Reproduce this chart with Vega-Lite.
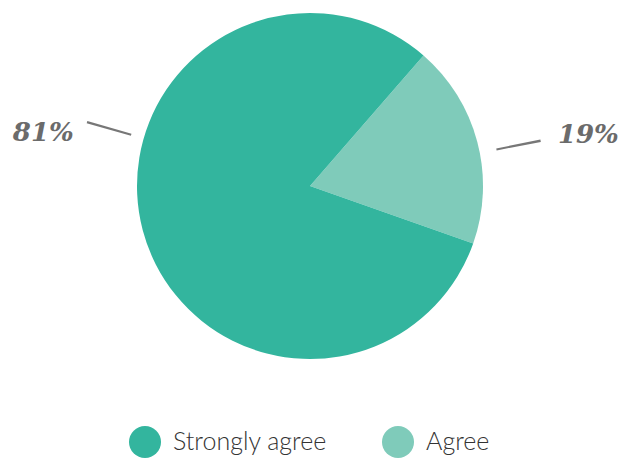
{
  "$schema": "https://vega.github.io/schema/vega-lite/v6.json",
  "width": 620,
  "height": 372,
  "padding": 0,
  "background": "white",
  "config": {"view": {"stroke": null}},
  "layer": [
    {
      "data": {"values": [
        {"answer": "Agree", "value": 19},
        {"answer": "Strongly agree", "value": 81}
      ]},
      "mark": {"type": "arc", "outerRadius": 173},
      "encoding": {
        "theta": {"field": "value", "type": "quantitative", "stack": true, "scale": {"range": [0.7156, 6.9988]}},
        "order": {"field": "value", "type": "quantitative", "sort": "ascending"},
        "color": {
          "field": "answer", "type": "nominal",
          "scale": {"domain": ["Strongly agree", "Agree"], "range": ["#33B59E", "#7FCBBA"]},
          "legend": {
            "title": null, "orient": "none", "direction": "horizontal",
            "legendX": 129, "legendY": 426,
            "symbolType": "circle", "symbolSize": 1024, "symbolStrokeWidth": 0,
            "labelFont": "Lato", "labelFontWeight": 300, "labelFontSize": 25, "labelColor": "#333333",
            "labelOffset": 12, "columnPadding": 55, "padding": 0, "labelLimit": 300
          }
        }
      }
    },
    {
      "data": {"values": [
        {"pct": "81%", "angle": 286, "r1": 186, "r2": 232},
        {"pct": "19%", "angle": 78.9, "r1": 190, "r2": 235}
      ]},
      "transform": [
        {"calculate": "datum.angle - 0.3", "as": "a1"},
        {"calculate": "datum.angle + 0.3", "as": "a2"}
      ],
      "mark": {"type": "arc", "color": "#777777"},
      "encoding": {
        "theta": {"field": "a1", "type": "quantitative", "scale": {"type": "linear", "domain": [0, 360], "range": [0, 6.2832], "zero": true}},
        "theta2": {"field": "a2"},
        "radius": {"field": "r1", "type": "quantitative", "scale": {"type": "linear", "domain": [0, 300], "range": [0, 300], "zero": true}},
        "radius2": {"field": "r2"}
      }
    },
    {
      "data": {"values": [
        {"pct": "81%", "angle": 281.3, "r": 272},
        {"pct": "19%", "angle": 79.6, "r": 283}
      ]},
      "mark": {"type": "text", "font": "DejaVu Serif", "fontWeight": "bold", "fontStyle": "italic", "fontSize": 26, "color": "#6B6B6B", "align": "center", "baseline": "middle"},
      "encoding": {
        "theta": {"field": "angle", "type": "quantitative", "scale": {"type": "linear", "domain": [0, 360], "range": [0, 6.2832], "zero": true}},
        "radius": {"field": "r", "type": "quantitative", "scale": {"type": "linear", "domain": [0, 300], "range": [0, 300], "zero": true}},
        "text": {"field": "pct", "type": "nominal"}
      }
    }
  ],
  "resolve": {"scale": {"theta": "independent", "radius": "independent"}}
}
